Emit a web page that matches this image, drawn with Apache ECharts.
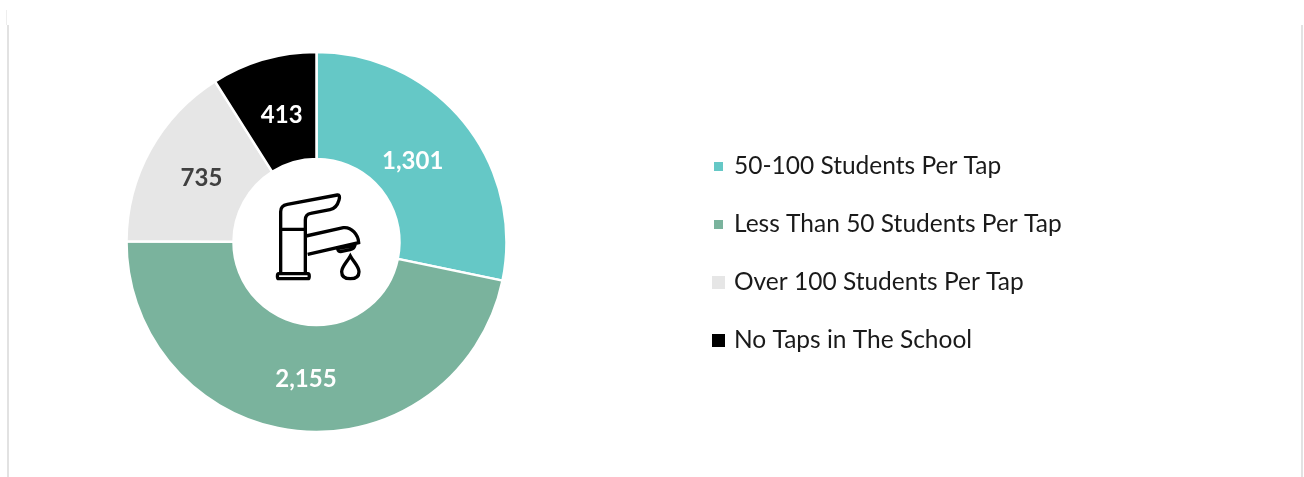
<!DOCTYPE html>
<html>
<head>
<meta charset="utf-8">
<style>
  html, body { margin: 0; padding: 0; background: #fff; }
  #chart { width: 1304px; height: 477px; }
</style>
<script src="https://cdn.jsdelivr.net/npm/echarts@6/dist/echarts.min.js"></script>
</head>
<body>
<div id="chart"></div>
<script>
const categories = ['50-100 Students Per Tap', 'Less Than 50 Students Per Tap', 'Over 100 Students Per Tap', 'No Taps in The School'];
const schools = [1301, 2155, 735, 413];
const colors = ['#65c8c6', '#7ab39d', '#e6e6e6', '#000000'];
const labelColors = ['#ffffff', '#ffffff', '#404040', '#ffffff'];

const font = 'Lato';

// faucet icon, traced in a 450x390 box
const faucet = 'M122 178L122 125C122 112 130 105 142 103L292 75C298 74 300 80 297 90C292 108 285 116 270 119L212 130C200 132 196 138 196 150L196 310'
  + 'M122 125L122 310M122 178L196 178'
  + 'M198 198L310 173C335 170 355 195 356 218L203 253'
  + 'M293 236L345 225C342 236 335 238 330 239L302 245C297 245 294 241 293 236Z'
  + 'M116 311L204 311C209 311 209 326 204 326L116 326C111 326 111 311 116 311Z'
  + 'M331 258C322 275 305 290 305 305C305 320 316 326 331 326C346 326 357 320 357 305C357 290 340 275 331 258Z';

echarts.graphic.registerShape('faucet', echarts.graphic.extendPath(faucet, {}));

const chart = echarts.init(document.getElementById('chart'));

// the default mid-ring label spot sits a little off from the original
const labelNudge = [[-12, 7], [4, -1], [7, 4], [4, 7]];

const legendBase = {
  orient: 'vertical',
  icon: 'rect',
  itemGap: 33
};
const legendText = (pad) => ({ fontFamily: font, fontSize: 24.5, color: '#1a1a1a', padding: [0, 0, 0, pad] });

chart.setOption({
  animation: false,
  backgroundColor: '#ffffff',
  color: colors,
  legend: [
    Object.assign({}, legendBase, { left: 707, top: 149, itemWidth: 11, itemHeight: 11,
      textStyle: legendText(5), data: categories.slice(0, 2) }),
    Object.assign({}, legendBase, { left: 705, top: 265, itemWidth: 15, itemHeight: 15,
      textStyle: legendText(3), data: categories.slice(2) })
  ],
  series: [{
    type: 'pie',
    center: [316.5, 242],
    radius: [83, 190],
    startAngle: 90,
    itemStyle: { borderColor: '#ffffff', borderWidth: 2.5 },
    label: { position: 'inside', fontFamily: font, fontSize: 24, fontWeight: 'bold',
      formatter: p => p.value.toLocaleString('en-US') },
    labelLine: { show: false },
    data: categories.map((name, i) => ({
      name,
      value: schools[i],
      label: { color: labelColors[i], offset: labelNudge[i] }
    }))
  }],
  graphic: [
    { type: 'line', shape: { x1: 8, y1: 25, x2: 8, y2: 477 }, style: { stroke: '#e2e2e2', lineWidth: 2 } },
    { type: 'line', shape: { x1: 6.5, y1: 10, x2: 6.5, y2: 25 }, style: { stroke: '#eeeeee', lineWidth: 1 } },
    { type: 'line', shape: { x1: 1302, y1: 25, x2: 1302, y2: 477 }, style: { stroke: '#e2e2e2', lineWidth: 2 } },
    { type: 'faucet', x: 240, y: 170, scaleX: 1 / 3, scaleY: 1 / 3,
      style: { fill: 'none', stroke: '#000000', lineWidth: 10 } }
  ]
});

window.addEventListener('resize', () => chart.resize());
</script>
</body>
</html>
